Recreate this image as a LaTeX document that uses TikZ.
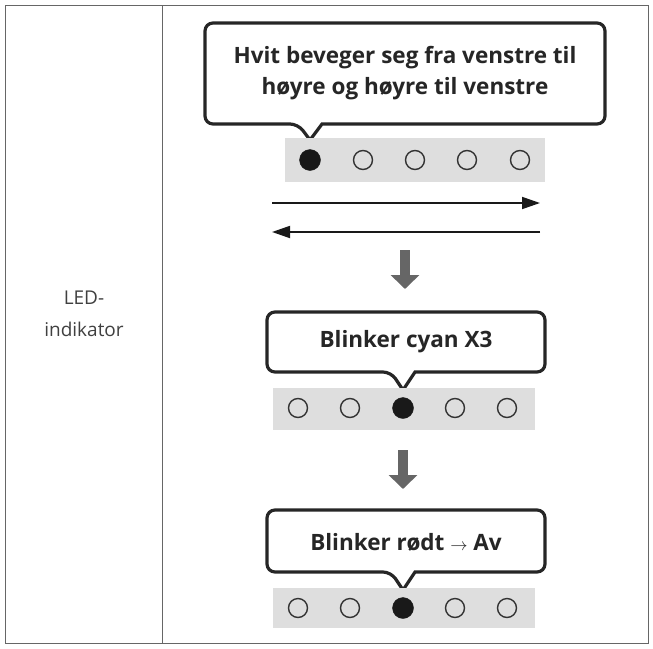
\documentclass[tikz,border=0pt]{standalone}
\usepackage{fontspec}
\setmainfont{Open Sans}
\usetikzlibrary{arrows.meta}
\begin{document}
\begin{tikzpicture}[x=1pt,y=-1pt,
  callout/.style={line width=3.2pt,rounded corners=8pt,fill=white,draw=black!85},
  bar/.style={fill=black!13,draw=none},
  off/.style={circle,draw=black!80,line width=1.4pt,minimum size=19pt,inner sep=0pt},
  on/.style={circle,fill=black!90,draw=black!90,minimum size=21pt,inner sep=0pt},
  txt/.style={font=\fontsize{22.5}{31}\selectfont\bfseries,text=black!85,align=center},
  down/.style={-{Triangle[width=28pt,length=14pt]},line width=10pt,draw=black!60},
  flow/.style={-{Triangle[width=12pt,length=18pt]},line width=1.8pt,draw=black!90}]
\useasboundingbox (0,0) rectangle (653,648);
\draw[black!60,line width=1pt] (5,5) rectangle (648,643);
\draw[black!60,line width=1pt] (162,5) -- (162,643);
\node[font=\fontsize{19}{32}\selectfont,text=black!75,align=center] (lbl) at (84,314) {LED-\\indikator};

% callout 1
\draw[callout] (322,124) -- (605,124) -- (605,23) -- (205,23) -- (205,124) -- (298,124) [sharp corners]-- (310,140) -- (322,124) -- (340,124);
\node[txt] (t1) at (405,73) {Hvit beveger seg fra venstre til\\høyre og høyre til venstre};
\fill[bar] (285,138) rectangle (545,182);
\node[on] (a1) at (310,160) {};
\node[off] (a2) at (363,160) {};
\node[off] (a3) at (415,160) {};
\node[off] (a4) at (467,160) {};
\node[off] (a5) at (520,160) {};
\coordinate (r1) at (272,203); \coordinate (r2) at (540,203);
\coordinate (l1) at (540,232); \coordinate (l2) at (272,232);
\draw[flow] (r1) -- (r2);
\draw[flow] (l1) -- (l2);
\coordinate (d1a) at (405,250); \coordinate (d1b) at (405,289);
\draw[down] (d1a) -- (d1b);

% callout 2
\draw[callout] (415,372) -- (545,372) -- (545,312) -- (267,312) -- (267,372) -- (391,372) [sharp corners]-- (403,390) -- (415,372) -- (430,372);
\node[txt] (t2) at (406,342) {Blinker cyan X3};
\fill[bar] (273,388) rectangle (535,430);
\node[off] (b1) at (298,408) {};
\node[off] (b2) at (350,408) {};
\node[on] (b3) at (403,408) {};
\node[off] (b4) at (455,408) {};
\node[off] (b5) at (507,408) {};
\coordinate (d2a) at (403,450); \coordinate (d2b) at (403,489);
\draw[down] (d2a) -- (d2b);

% callout 3
\draw[callout] (415,572) -- (545,572) -- (545,510) -- (267,510) -- (267,572) -- (391,572) [sharp corners]-- (403,590) -- (415,572) -- (430,572);
\node[txt] (t3) at (406,542) {Blinker rødt {\fontsize{18}{18}\selectfont\mdseries$\rightarrow$} Av};
\fill[bar] (273,588) rectangle (535,628);
\node[off] (c1) at (298,608) {};
\node[off] (c2) at (350,608) {};
\node[on] (c3) at (403,608) {};
\node[off] (c4) at (455,608) {};
\node[off] (c5) at (507,608) {};
\end{tikzpicture}
\end{document}
